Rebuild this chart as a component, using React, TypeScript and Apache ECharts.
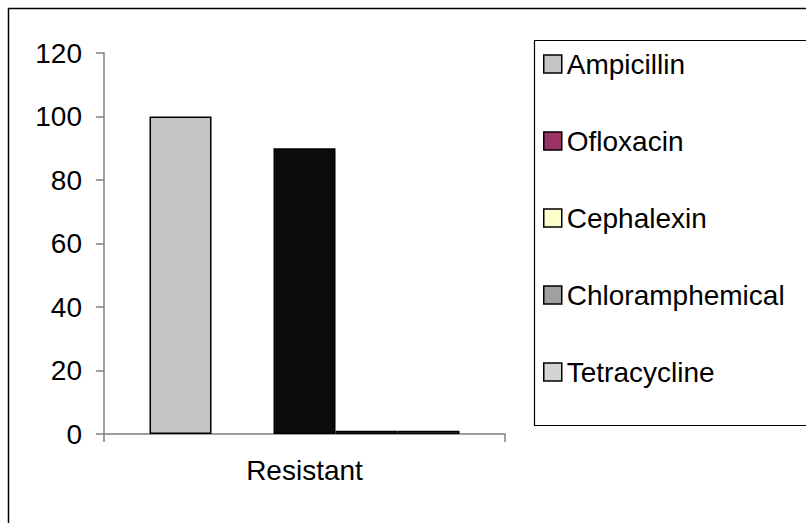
import React, { useEffect, useRef } from "react";
import * as echarts from "echarts";

const categories = ["Resistant"];
const seriesNames = ["Ampicillin", "Ofloxacin", "Cephalexin", "Chloramphemical", "Tetracycline"];
const ampicillin = [100];
const ofloxacin = [0];
const cephalexin = [90];
const chloramphemical = [1];
const tetracycline = [1];
const yTicks = { min: 0, max: 120, interval: 20 };

const legendColors = ["#c4c4c4", "#993366", "#ffffcc", "#a0a0a0", "#d4d4d4"];
const barColors = ["#c4c4c4", "#993366", "#0c0c0c", "#5a5a5a", "#8a8a8a"];

const FONT = "'Liberation Sans', Arial, sans-serif";

export default function App() {
  const ref = useRef<HTMLDivElement>(null);
  useEffect(() => {
    if (!ref.current) return;
    const chart = echarts.init(ref.current, undefined, { renderer: "svg" });
    const values = [ampicillin, ofloxacin, cephalexin, chloramphemical, tetracycline];
    chart.setOption({
      animation: false,
      backgroundColor: "#ffffff",
      textStyle: { fontFamily: FONT },
      graphic: [
        {
          type: "rect",
          shape: { x: 8.5, y: 8.5, width: 820, height: 540 },
          style: { fill: "none", stroke: "#000", lineWidth: 1.5 },
          silent: true,
        },
        {
          type: "rect",
          shape: { x: 534.5, y: 40.5, width: 300, height: 385 },
          style: { fill: "none", stroke: "#000", lineWidth: 1.2 },
          silent: true,
        },
      ],
      grid: { left: 104, top: 53, width: 401, height: 381, containLabel: false },
      legend: {
        orient: "vertical",
        left: 543,
        top: 50,
        padding: 0,
        itemWidth: 18,
        itemHeight: 18,
        itemGap: 49,
        icon: "rect",
        textStyle: { fontSize: 28, lineHeight: 28, color: "#000", fontFamily: FONT },
        itemStyle: { borderColor: "#000", borderWidth: 1.5 },
        data: seriesNames,
      },
      xAxis: {
        type: "category",
        data: categories,
        axisLine: { lineStyle: { color: "#808080", width: 1.5 } },
        axisTick: { show: true, alignWithLabel: false, length: 8, lineStyle: { color: "#808080", width: 1.5 } },
        axisLabel: { fontSize: 28, color: "#000", margin: 22, fontFamily: FONT },
        splitLine: { show: false },
      },
      yAxis: {
        type: "value",
        min: yTicks.min,
        max: yTicks.max,
        interval: yTicks.interval,
        axisLine: { show: true, lineStyle: { color: "#808080", width: 1.5 } },
        axisTick: { show: true, length: 8, lineStyle: { color: "#808080", width: 1.5 } },
        axisLabel: { fontSize: 28, color: "#000", margin: 22, fontFamily: FONT },
        splitLine: { show: false },
      },
      series: seriesNames.map((name, i) => ({
        name,
        type: "bar",
        barGap: "0%",
        barCategoryGap: "22.7%",
        z: 3,
        itemStyle: { color: legendColors[i], borderColor: "#000", borderWidth: 1.5 },
        data: values[i].map((v) => ({
          value: v,
          itemStyle: { color: barColors[i], borderWidth: v === 0 ? 0 : 1.5 },
        })),
      })),
    });
    return () => chart.dispose();
  }, []);
  return (
    <div
      ref={ref}
      style={{ position: "fixed", left: 0, top: 0, width: 806, height: 523, background: "#fff" }}
    />
  );
}
